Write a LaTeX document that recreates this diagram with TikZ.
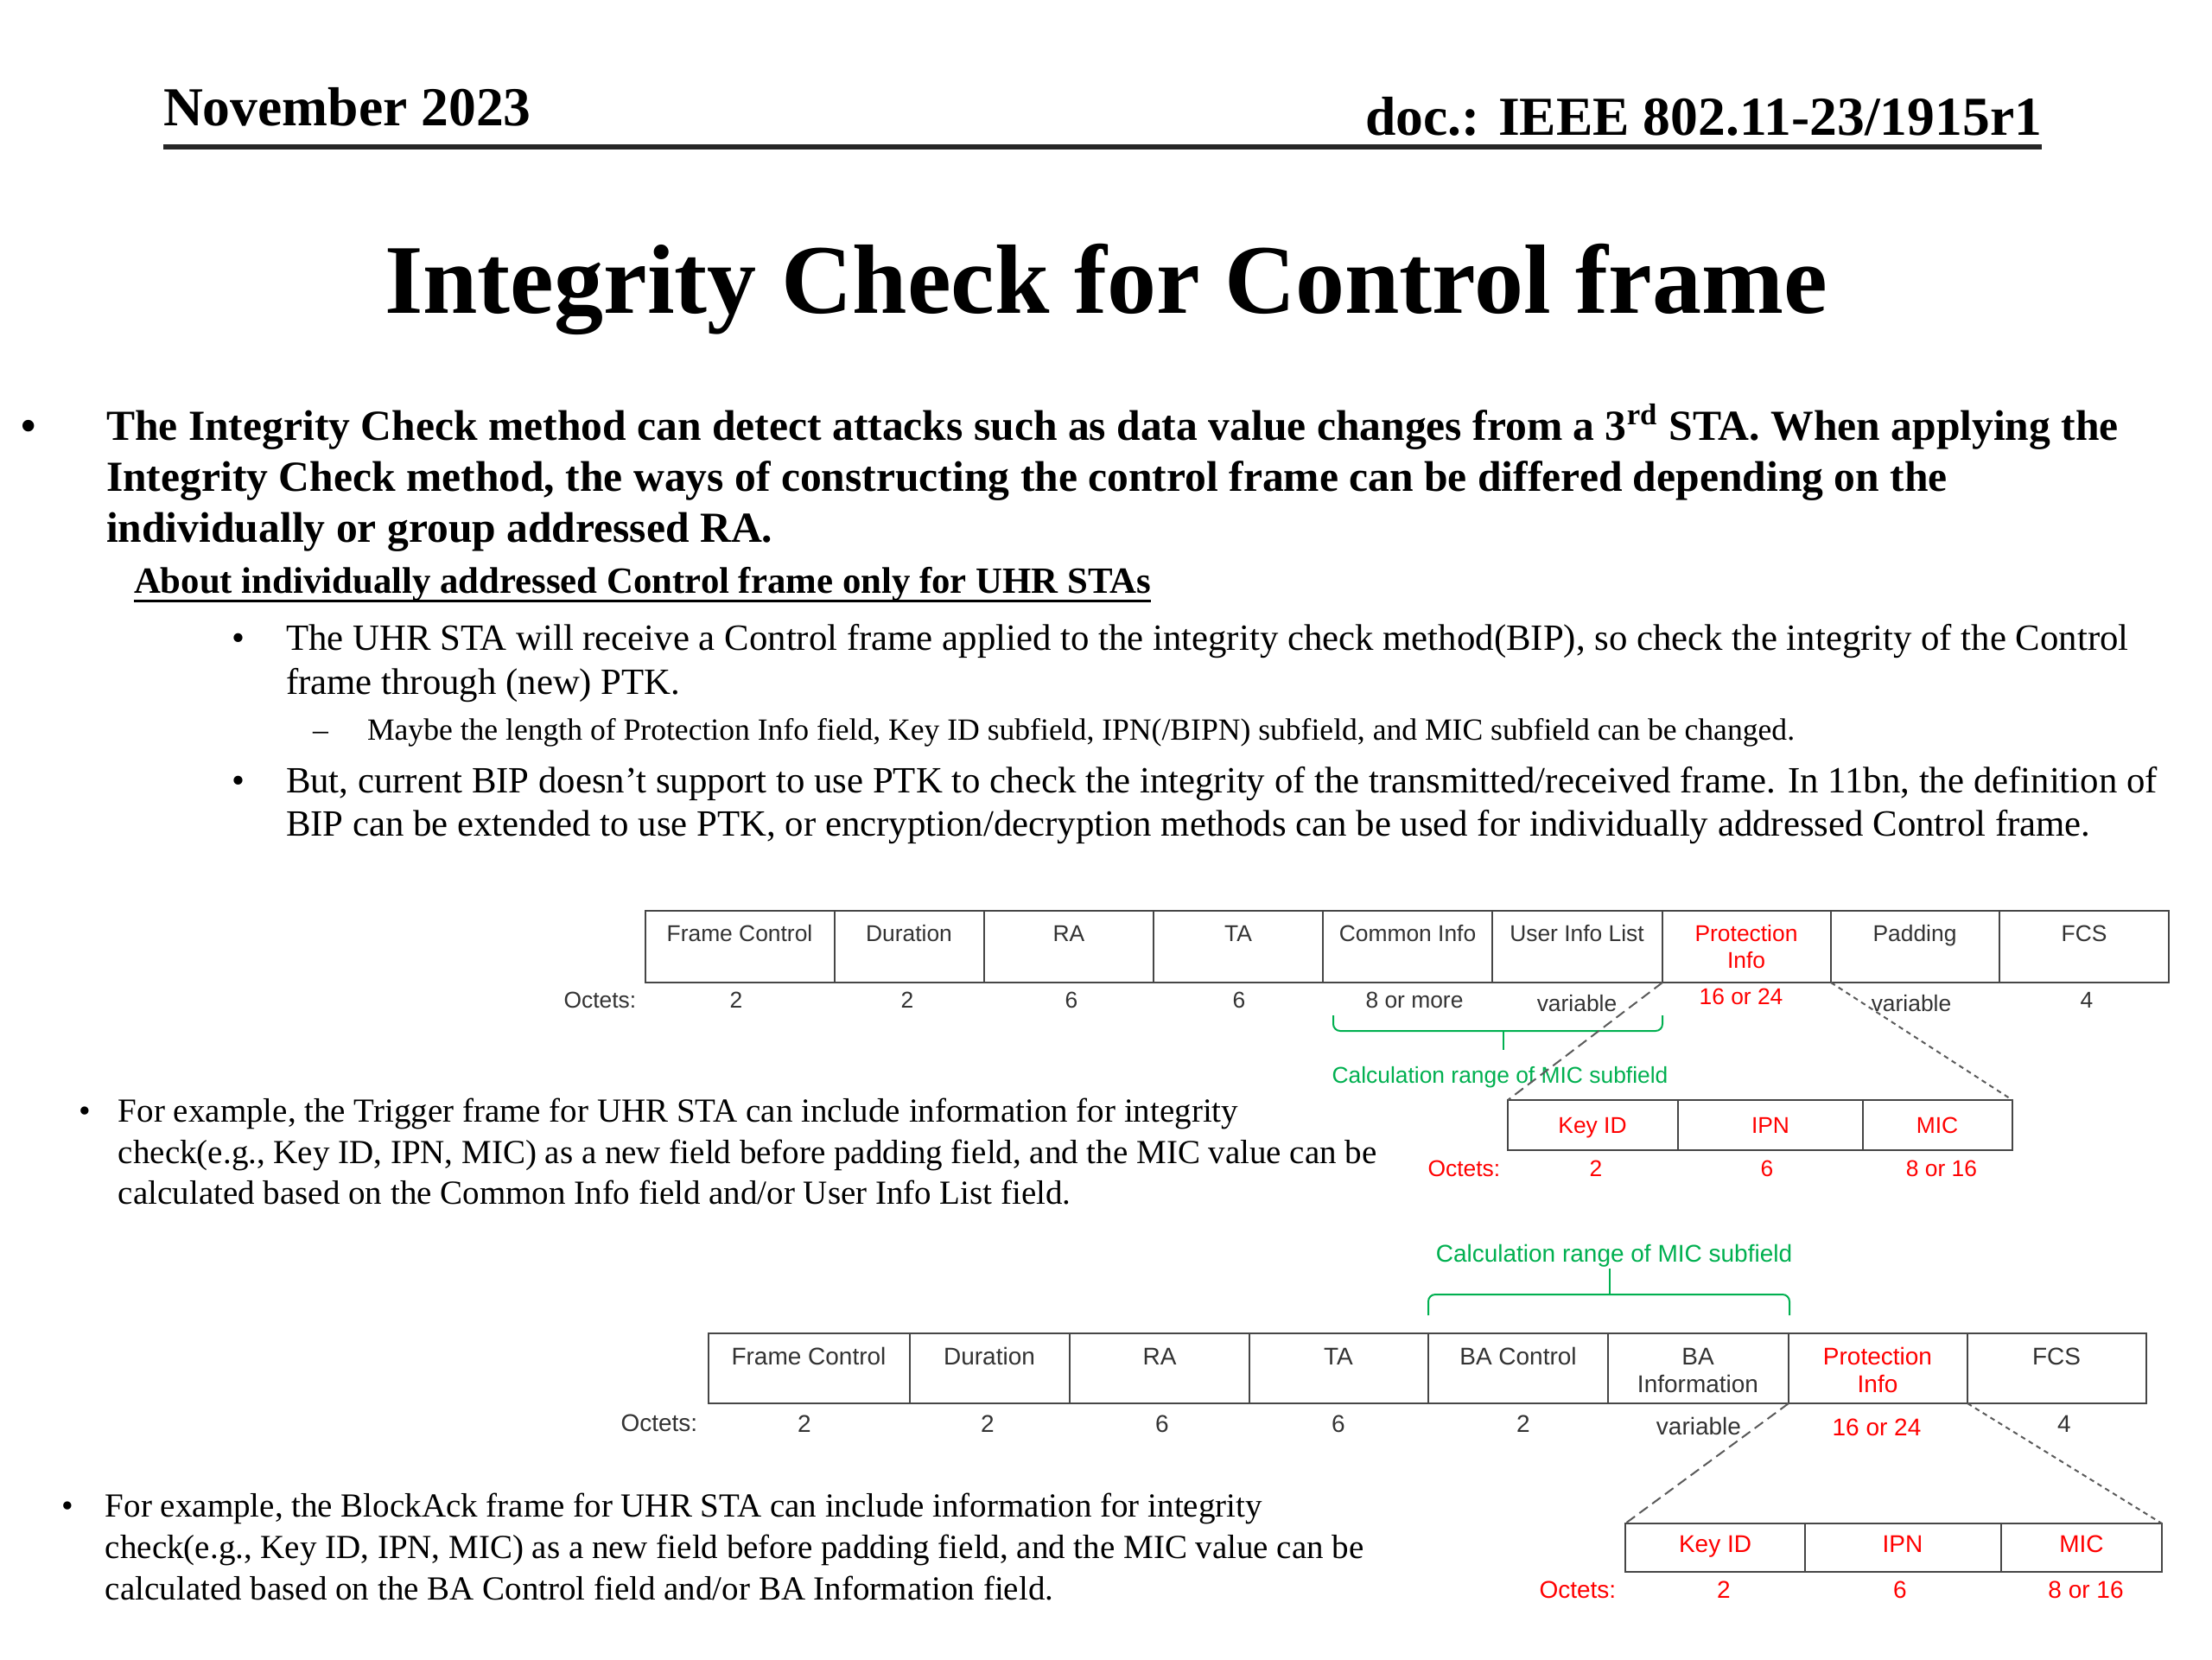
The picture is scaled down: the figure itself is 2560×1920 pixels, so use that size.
\documentclass[tikz,border=0pt]{standalone}
\usepackage{fontspec}
\setmainfont{Liberation Serif}
\newfontfamily\arial{Liberation Sans}
\definecolor{micgreen}{RGB}{0,176,80}
\definecolor{pred}{RGB}{255,0,0}
\definecolor{boxgray}{RGB}{70,70,70}
\definecolor{dgray}{RGB}{90,90,90}
\begin{document}
\begin{tikzpicture}[x=0.25pt,y=-0.25pt,
  txt/.style={anchor=base west,inner sep=0,outer sep=0},
  hdr/.style={txt,font=\bfseries\fontsize{15.9pt}{19pt}\selectfont},
  ttl/.style={anchor=base,inner sep=0,font=\bfseries\fontsize{28.5pt}{34pt}\selectfont},
  pone/.style={txt,font=\bfseries\fontsize{12.4pt}{15pt}\selectfont},
  subh/.style={txt,font=\bfseries\fontsize{10.7pt}{13pt}\selectfont},
  btwo/.style={txt,font=\fontsize{10.7pt}{13pt}\selectfont},
  dsh/.style={txt,font=\fontsize{8.9pt}{10pt}\selectfont},
  exa/.style={txt,font=\fontsize{9.75pt}{12pt}\selectfont},
  cellbox/.style={draw=boxgray,line width=0.6pt},
  fa/.style={anchor=base,inner sep=0,text=black!80,font=\arial\fontsize{6.6pt}{8pt}\selectfont},
  fb/.style={anchor=base,inner sep=0,text=black!80,font=\arial\fontsize{7pt}{8.4pt}\selectfont},
  red/.style={text=pred},
  grn/.style={text=micgreen},
  oct/.style={anchor=base east},
  brace/.style={draw=micgreen,line width=0.5pt,rounded corners=2pt},
  zoomA/.style={draw=dgray,line width=0.5pt,dash pattern=on 3pt off 1.6pt},
  zoomB/.style={draw=dgray,line width=0.5pt,dash pattern=on 1.4pt off 1.2pt}
]
\useasboundingbox[fill=white] (0,0) rectangle (2560,1920);

% header
\node[hdr] (date) at (189,145) {November 2023};
\node[hdr,anchor=base east] (doc) at (2363,156) {doc.: IEEE 802.11-23/1915r1};
\draw[line width=1.3pt,black!85] (189,170) -- (2363,170);

% title
\node[ttl] (title) at (1280,362) {Integrity Check for Control frame};

% paragraph 1
\node[pone] (b0) at (24,509) {•};
\node[pone] (p1a) at (123,509) {The Integrity Check method can detect attacks such as data value changes from a 3\textsuperscript{rd} STA. When applying the};
\node[pone] (p1b) at (123,568) {Integrity Check method, the ways of constructing the control frame can be differed depending on the};
\node[pone] (p1c) at (123,627) {individually or group addressed RA.};

% sub heading
\node[subh] (sh) at (155,686) {About individually addressed Control frame only for UHR STAs};
\draw[line width=0.7pt] ([yshift=-2.4pt]sh.base west) -- ([yshift=-2.4pt]sh.base east);

% sub bullets
\node[btwo] (b1) at (268,752) {•};
\node[btwo] (b1a) at (331,752) {The UHR STA will receive a Control frame applied to the integrity check method(BIP), so check the integrity of the Control};
\node[btwo] (b1b) at (331,803) {frame through (new) PTK.};
\node[dsh] (d1) at (362,856) {–};
\node[dsh] (d1a) at (425,856) {Maybe the length of Protection Info field, Key ID subfield, IPN(/BIPN) subfield, and MIC subfield can be changed.};
\node[btwo] (b2) at (268,917) {•};
\node[btwo] (b2a) at (331,917) {But, current BIP doesn’t support to use PTK to check the integrity of the transmitted/received frame. In 11bn, the definition of};
\node[btwo] (b2b) at (331,967) {BIP can be extended to use PTK, or encryption/decryption methods can be used for individually addressed Control frame.};

% example 1 text
\node[exa] (e1) at (92,1298) {•};
\node[exa] (e1a) at (137,1298) {For example, the Trigger frame for UHR STA can include information for integrity};
\node[exa] (e1b) at (137,1346) {check(e.g., Key ID, IPN, MIC) as a new field before padding field, and the MIC value can be};
\node[exa] (e1c) at (137,1393) {calculated based on the Common Info field and/or User Info List field.};

% example 2 text
\node[exa] (e2) at (71,1755) {•};
\node[exa] (e2a) at (122,1755) {For example, the BlockAck frame for UHR STA can include information for integrity};
\node[exa] (e2b) at (122,1803) {check(e.g., Key ID, IPN, MIC) as a new field before padding field, and the MIC value can be};
\node[exa] (e2c) at (122,1851) {calculated based on the BA Control field and/or BA Information field.};

% ===== Trigger frame =====
\draw[cellbox] (747,1054) rectangle (2510,1137);
\foreach \x in {966,1139,1335,1531,1727,1924,2119,2314} \draw[cellbox] (\x,1054) -- (\x,1137);
\node[fa] (t1) at (856,1089) {Frame Control};
\node[fa] (t2) at (1052,1089) {Duration};
\node[fa] (t3) at (1237,1089) {RA};
\node[fa] (t4) at (1433,1089) {TA};
\node[fa] (t5) at (1629,1089) {Common Info};
\node[fa] (t6) at (1825,1089) {User Info List};
\node[fa,red] (t7) at (2021,1089) {Protection};
\node[fa,red] (t7b) at (2021,1120) {Info};
\node[fa] (t8) at (2216,1089) {Padding};
\node[fa] (t9) at (2412,1089) {FCS};
\node[fa,oct] (to) at (737,1166) {Octets:};
\node[fa] (o1) at (852,1166) {2};
\node[fa] (o2) at (1050,1166) {2};
\node[fa] (o3) at (1240,1166) {6};
\node[fa] (o4) at (1434,1166) {6};
\node[fa] (o5) at (1637,1166) {8 or more};
\node[fa] (o6) at (1825,1170) {variable};
\node[fa,red] (o7) at (2015,1162) {16 or 24};
\node[fa] (o8) at (2212,1170) {variable};
\node[fa] (o9) at (2415,1166) {4};
\coordinate (pa1) at (1924,1137);
\coordinate (pa2) at (2119,1137);
% brace
\draw[brace] (1543,1175) -- (1543,1193) -- (1924,1193) -- (1924,1175);
\draw[brace] (1740,1193) -- (1740,1215);
\node[fa,grn,anchor=base] (ca) at (1736,1253) {Calculation range of MIC subfield};
% sub box
\draw[cellbox] (1745,1273) rectangle (2329,1331);
\foreach \x in {1942,2156} \draw[cellbox] (\x,1273) -- (\x,1331);
\coordinate (sa1) at (1745,1273);
\coordinate (sa2) at (2329,1273);
\node[fa,red] (k1) at (1843,1311) {Key ID};
\node[fa,red] (k2) at (2049,1311) {IPN};
\node[fa,red] (k3) at (2242,1311) {MIC};
\node[fa,red,oct] (ko) at (1737,1361) {Octets:};
\node[fa,red] (ko1) at (1847,1361) {2};
\node[fa,red] (ko2) at (2045,1361) {6};
\node[fa,red] (ko3) at (2247,1361) {8 or 16};
\draw[zoomA] (pa1) -- (sa1);
\draw[zoomB] (pa2) -- (sa2);

% ===== BlockAck frame =====
\node[fb,grn] (cb) at (1868,1460) {Calculation range of MIC subfield};
\draw[brace] (1653,1522) -- (1653,1498) -- (2071,1498) -- (2071,1522);
\draw[brace] (1863,1498) -- (1863,1468);
\draw[cellbox] (820,1543) rectangle (2484,1624);
\foreach \x in {1053,1238,1446,1653,1861,2070,2277} \draw[cellbox] (\x,1543) -- (\x,1624);
\node[fb] (u1) at (936,1579) {Frame Control};
\node[fb] (u2) at (1145,1579) {Duration};
\node[fb] (u3) at (1342,1579) {RA};
\node[fb] (u4) at (1549,1579) {TA};
\node[fb] (u5) at (1757,1579) {BA Control};
\node[fb] (u6) at (1965,1579) {BA};
\node[fb] (u6b) at (1965,1611) {Information};
\node[fb,red] (u7) at (2173,1579) {Protection};
\node[fb,red] (u7b) at (2173,1611) {Info};
\node[fb] (u8) at (2380,1579) {FCS};
\node[fb,oct] (uo) at (808,1656) {Octets:};
\node[fb] (v1) at (931,1657) {2};
\node[fb] (v2) at (1143,1657) {2};
\node[fb] (v3) at (1345,1657) {6};
\node[fb] (v4) at (1549,1657) {6};
\node[fb] (v5) at (1763,1657) {2};
\node[fb] (v6) at (1966,1660) {variable};
\node[fb,red] (v7) at (2172,1661) {16 or 24};
\node[fb] (v8) at (2389,1657) {4};
\coordinate (pb1) at (2070,1624);
\coordinate (pb2) at (2277,1624);
\draw[cellbox] (1881,1763) rectangle (2502,1819);
\foreach \x in {2089,2316} \draw[cellbox] (\x,1763) -- (\x,1819);
\coordinate (sb1) at (1881,1763);
\coordinate (sb2) at (2502,1763);
\node[fb,red] (m1) at (1985,1796) {Key ID};
\node[fb,red] (m2) at (2202,1796) {IPN};
\node[fb,red] (m3) at (2409,1796) {MIC};
\node[fb,red,oct] (mo) at (1871,1849) {Octets:};
\node[fb,red] (mo1) at (1995,1849) {2};
\node[fb,red] (mo2) at (2199,1849) {6};
\node[fb,red] (mo3) at (2414,1849) {8 or 16};
\draw[zoomA] (pb1) -- (sb1);
\draw[zoomB] (pb2) -- (sb2);
\end{tikzpicture}
\end{document}
